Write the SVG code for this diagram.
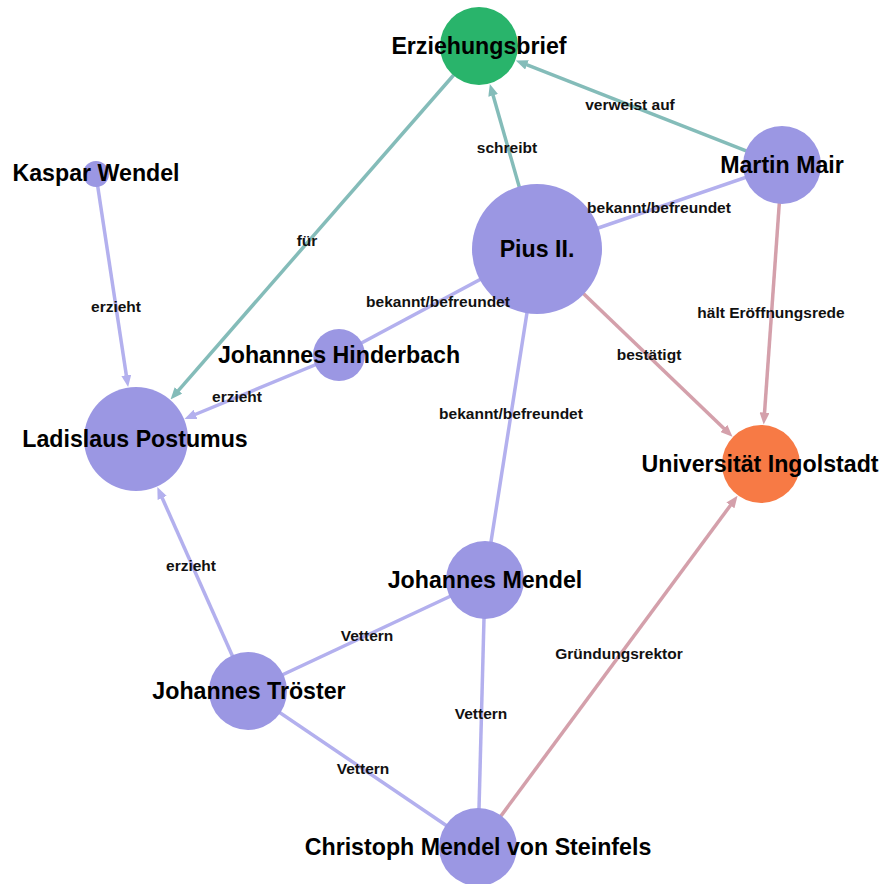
<svg xmlns="http://www.w3.org/2000/svg" width="884" height="884" viewBox="0 0 884 884">
<style>
.e{fill:none;stroke-width:3.5}
.teal{stroke:#84bcb9}
.lav{stroke:#b3b0ee}
.pink{stroke:#d4a0ab}
.p{fill:#9b97e3}
.g{fill:#29b46b}
.o{fill:#f77a45}
.nl{font-family:"Liberation Sans",Arial,sans-serif;font-weight:bold;font-size:23.2px;text-anchor:middle;fill:#000}
.el{font-family:"Liberation Sans",Arial,sans-serif;font-weight:bold;font-size:15.5px;text-anchor:middle;fill:#111}
</style>
<defs>
<marker id="aT" markerUnits="userSpaceOnUse" markerWidth="12" markerHeight="10" viewBox="0 0 12 10" refX="0.5" refY="5" orient="auto"><path d="M0,0 L12,5 L0,10 z" fill="#84bcb9"/></marker>
<marker id="aL" markerUnits="userSpaceOnUse" markerWidth="12" markerHeight="10" viewBox="0 0 12 10" refX="0.5" refY="5" orient="auto"><path d="M0,0 L12,5 L0,10 z" fill="#b3b0ee"/></marker>
<marker id="aP" markerUnits="userSpaceOnUse" markerWidth="12" markerHeight="10" viewBox="0 0 12 10" refX="0.5" refY="5" orient="auto"><path d="M0,0 L12,5 L0,10 z" fill="#d4a0ab"/></marker>
</defs>
<rect width="884" height="884" fill="#fff"/>
<g id="connectors">
<line class="e teal" x1="537" y1="249" x2="493.0" y2="95.0" marker-end="url(#aT)"/>
<line class="e teal" x1="782" y1="165" x2="526.5" y2="64.7" marker-end="url(#aT)"/>
<line class="e teal" x1="479" y1="46" x2="178.1" y2="390.8" marker-end="url(#aT)"/>
<line class="e lav" x1="96" y1="175" x2="126.4" y2="375.7" marker-end="url(#aL)"/>
<line class="e lav" x1="339" y1="355" x2="195.1" y2="414.5" marker-end="url(#aL)"/>
<line class="e pink" x1="537" y1="249" x2="724.2" y2="428.7" marker-end="url(#aP)"/>
<line class="e pink" x1="782" y1="165" x2="764.5" y2="413.1" marker-end="url(#aP)"/>
<line class="e lav" x1="248" y1="691" x2="162.0" y2="497.5" marker-end="url(#aL)"/>
<line class="e pink" x1="478" y1="847" x2="730.7" y2="505.0" marker-end="url(#aP)"/>
<line class="e lav" x1="537" y1="249" x2="782" y2="165"/>
<line class="e lav" x1="537" y1="249" x2="339" y2="355"/>
<line class="e lav" x1="537" y1="249" x2="485" y2="580"/>
<line class="e lav" x1="248" y1="691" x2="485" y2="580"/>
<line class="e lav" x1="485" y1="580" x2="478" y2="847"/>
<line class="e lav" x1="248" y1="691" x2="478" y2="847"/>
</g>
<g id="n-erziehungsbrief"><circle class="g" cx="479" cy="46" r="39"/><text class="nl" x="479" y="54">Erziehungsbrief</text></g>
<g id="n-pius"><circle class="p" cx="537" cy="249" r="65"/><text class="nl" x="537" y="257">Pius II.</text></g>
<g id="n-martin-mair"><circle class="p" cx="782" cy="165" r="39"/><text class="nl" x="782" y="173">Martin Mair</text></g>
<g id="n-kaspar-wendel"><circle class="p" cx="96" cy="174" r="13"/><text class="nl" x="96" y="181">Kaspar Wendel</text></g>
<g id="n-ladislaus"><circle class="p" cx="136" cy="439" r="52"/><text class="nl" x="135" y="447">Ladislaus Postumus</text></g>
<g id="n-hinderbach"><circle class="p" cx="339" cy="355" r="26"/><text class="nl" x="339" y="363">Johannes Hinderbach</text></g>
<g id="n-universitaet"><circle class="o" cx="761" cy="464" r="39"/><text class="nl" x="760" y="472">Universität Ingolstadt</text></g>
<g id="n-johannes-mendel"><circle class="p" cx="485" cy="580" r="39"/><text class="nl" x="485" y="588">Johannes Mendel</text></g>
<g id="n-troester"><circle class="p" cx="248" cy="691" r="39"/><text class="nl" x="249" y="699">Johannes Tröster</text></g>
<g id="n-christoph"><circle class="p" cx="478" cy="847" r="39"/><text class="nl" x="478" y="855">Christoph Mendel von Steinfels</text></g>
<g id="edge-labels">
<text class="el" x="507" y="153">schreibt</text>
<text class="el" x="630" y="110">verweist auf</text>
<text class="el" x="307" y="246">für</text>
<text class="el" x="116" y="312">erzieht</text>
<text class="el" x="659" y="213">bekannt/befreundet</text>
<text class="el" x="438" y="307">bekannt/befreundet</text>
<text class="el" x="237" y="402">erzieht</text>
<text class="el" x="511" y="419">bekannt/befreundet</text>
<text class="el" x="649" y="360">bestätigt</text>
<text class="el" x="771" y="318">hält Eröffnungsrede</text>
<text class="el" x="191" y="571">erzieht</text>
<text class="el" x="367" y="641">Vettern</text>
<text class="el" x="481" y="719">Vettern</text>
<text class="el" x="363" y="774">Vettern</text>
<text class="el" x="619" y="659">Gründungsrektor</text>
</g>
</svg>
